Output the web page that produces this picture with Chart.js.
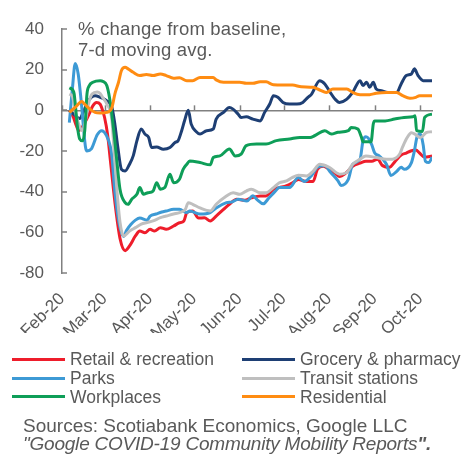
<!DOCTYPE html>
<html><head><meta charset="utf-8">
<script src="https://cdn.jsdelivr.net/npm/chart.js@4"></script>
<style>
html,body{margin:0;padding:0;background:#fff;}
#wrap{position:relative;width:465px;height:457px;overflow:hidden;font-family:"Liberation Sans",Arial,sans-serif;color:#595959;}
canvas{position:absolute;left:0;top:0;}
.t{position:absolute;white-space:nowrap;}
.sw{position:absolute;height:3px;width:53px;}
</style></head><body>
<div id="wrap">
<canvas id="c" width="465" height="457"></canvas>
<div class="t" id="title" style="left:78px;top:18px;font-size:18.5px;letter-spacing:0.2px;line-height:21px;">% change from baseline,<br>7-d moving avg.</div>
<div id="legend"></div>
<div class="t" id="src" style="left:23px;top:416.5px;font-size:19px;line-height:18px;">Sources: Scotiabank Economics, Google LLC<br><i style="letter-spacing:-0.22px;">"Google COVID-19 Community Mobility Reports<b>".</b></i></div>
</div>
<script>
// x values: days since 1 Feb 2020
const monthLabels = ['Feb-20','Mar-20','Apr-20','May-20','Jun-20','Jul-20','Aug-20','Sep-20','Oct-20'];
const monthStarts = [0,29,60,90,121,151,182,213,244];
const yTicks = [40,20,0,-20,-40,-60,-80];
const seriesNames = ['Retail & recreation','Grocery & pharmacy','Parks','Transit stations','Workplaces','Residential'];
const seriesColors = ['#EE1D2B','#1E3F74','#3D9AD5','#BFBFBF','#0E9E58','#FF8C12'];

const retail = [[5,0],[7.5,-3],[9.5,-7],[11.5,-10],[14,-8],[17,-4],[19,-1],[21,2.2],[23.5,3.8],[26,3],[27,1.4],[29,-3.5],[31,-11.7],[33,-25],[36,-45],[39.5,-63],[43,-69],[46,-66.7],[50,-61.8],[53,-59.4],[56.5,-60.2],[60,-58.5],[63,-59.4],[67,-57.7],[71,-58.5],[76,-56.9],[80,-55.3],[83,-54.4],[85,-50.3],[89,-49.5],[93,-53],[97,-52.8],[101,-54.4],[105,-52],[110,-48.7],[114,-46.2],[119,-43.7],[124.5,-44.2],[129,-43],[135,-42.1],[139,-42.1],[144,-38.8],[148,-38],[153,-37],[157,-35.6],[161,-34],[166.5,-35],[171,-35],[174,-29],[178,-27.5],[182,-29],[186,-31],[189,-32.5],[193,-31],[198,-27.5],[203,-26],[207,-25],[211,-25],[215,-24],[218,-27],[223,-28],[227,-25],[231,-22],[234.5,-21],[237.5,-20],[241,-19.5],[243.5,-21],[247,-23],[252,-22.5]];
const grocery = [[5,0],[9,-2.5],[12,-4],[15,0],[18,4.7],[22.5,7.2],[26,6.4],[30.5,4.7],[34,1.4],[36,-6.8],[38,-18],[40.5,-29],[43,-29.8],[46,-26.5],[48.5,-22.4],[51,-15],[54,-9.2],[56.5,-11.7],[59,-13.3],[61,-18.3],[64.5,-18],[69,-19.1],[73.5,-18.3],[77,-15.8],[79,-15],[81.5,-10],[83.5,-5],[86,0],[88,-6.8],[91.5,-10.5],[94,-11.7],[98.5,-10],[103,-9.2],[105,-4.3],[110,-1],[114,1.4],[116.5,0.6],[120,-1.9],[122,-3.5],[125.5,-3.2],[130,-4.3],[135,-5.2],[138,-1],[141.5,3.1],[144,7.2],[147,6.4],[150.5,3.9],[155,3.1],[160,3.1],[164,3.9],[167.5,6.4],[170,8],[175.5,14.6],[179,13],[182,9.6],[186,5.5],[189,3.9],[194,5.5],[198,8.8],[203,14.6],[205,12.2],[207.5,13.8],[209.5,11.3],[212,13.8],[214,10.5],[217.5,9.6],[222,8.8],[228,8.8],[231,13],[234.5,17.1],[238,17.9],[240,20.4],[242.5,17.1],[246,14.6],[252,14.6]];
const parks = [[5,-6],[7,10],[9,23],[11,18],[13,5],[16,-18],[17,-20],[20,-19],[24,-12],[27,-10],[30,-12],[33,-18],[34,-23],[36,-40],[39,-56],[42,-62],[44,-59],[47,-56],[50,-54],[53,-53],[58,-54],[60,-52],[64,-51],[68,-50],[71,-49.5],[76,-48.7],[80,-48.7],[85,-50.3],[87,-49.5],[94,-51],[101,-50.3],[105,-48],[112,-45.4],[116,-45],[120,-43.7],[126,-44.6],[130,-42],[133,-44],[137,-46],[141,-43],[145,-40],[148,-38],[155,-38],[161,-33],[165,-35],[170,-32],[174,-28],[179,-27.3],[183,-30.6],[188,-34.7],[190,-37],[195,-34],[198,-26.5],[203,-24],[205,-15],[207,-13],[209,-14],[211,-17],[213,-21],[216,-22.4],[221,-26.5],[224,-32],[228,-30],[231,-28],[233,-29],[238,-25.7],[240,-20],[242,-12.6],[244,-11.7],[246,-17],[247.5,-25],[250,-25.7],[252,-23]];
const transit = [[5,8],[7,7],[9.5,-2],[12,-8],[14,-10],[16,-5],[18,3],[20.5,8],[24,9],[26,8.3],[28,6],[30.5,3.2],[34,-5],[35.5,-20],[37.5,-40],[39.5,-55],[42,-61.8],[46,-59.4],[50,-57.7],[54,-56],[58,-55.2],[62,-54.4],[67,-52.8],[71,-52],[76,-51],[80,-50.3],[84,-48.7],[86,-45.4],[89,-46.2],[94,-48],[101,-49.5],[105,-46.2],[112,-42.1],[116.5,-40.5],[121,-41.3],[125.5,-39.7],[129,-38.8],[135,-40.5],[139,-40.5],[144,-38],[148,-35.6],[153,-34.7],[157,-33],[161,-31.9],[166.5,-32.3],[171,-30],[175.5,-26.5],[182,-28],[189,-31.4],[194,-30.5],[198,-26.5],[203,-24],[207,-22.4],[214,-23.2],[221,-24],[225,-24],[230,-21.5],[232,-18],[235,-13.5],[238,-11],[241,-12],[244,-13.5],[248,-11],[252,-10.5]];
const workplaces = [[5,11],[8,9],[10.5,-8],[12,-14],[14,-15],[15.5,-10],[17,8],[18.5,12],[21,13.8],[26,14.6],[28,14.2],[30.5,12.2],[32.5,5.6],[35,-8.5],[37,-22.4],[39.5,-38.8],[43,-45.4],[45,-46.2],[47.5,-43.7],[51,-41.3],[53,-38],[55.5,-41.3],[58.5,-40.5],[62,-39.7],[64.5,-35.6],[67,-38.8],[70,-38],[73.5,-31.4],[76,-35.6],[80,-33.9],[82.5,-29],[85,-26.5],[87,-24.9],[94,-25.7],[101,-26.8],[103,-23.2],[107.5,-22.4],[114,-19],[118,-22.4],[122,-21.5],[125.5,-17.4],[132.5,-16.6],[139,-16.6],[146,-14.9],[155,-14.1],[162,-13.3],[169,-13.3],[172,-12.5],[179,-10],[183.5,-11.7],[188,-10.8],[195,-10],[197,-8.4],[201.5,-9.2],[204,-13.3],[205,-15.5],[210.5,-15.5],[212,-6.7],[213,-5.2],[220,-5.2],[226.5,-4.3],[233,-3.5],[239,-3.2],[240.5,-2.7],[241.5,-10],[245.5,-10.4],[247,-3.5],[252,-1.9]];
const residential = [[5,-1],[9,1.4],[13.5,4.3],[15.5,3],[19,0.6],[22.5,-1],[26,-1.3],[30.5,-1],[34,1.4],[36,8],[38.5,13.8],[40.5,19.6],[43,21.2],[45,20.4],[48.5,18.7],[53,17.1],[57.5,17.6],[62,17.1],[67,17.9],[71,17.1],[76,15.8],[80,16],[85,14.6],[89,14.6],[94,16.2],[103,16.2],[105,15],[110,13.8],[121,13.8],[125.5,13.3],[130,13.3],[135,14.1],[139,14],[144,12.6],[150.5,12.4],[157,12.4],[163,11.6],[171,11.3],[175.5,10],[180,8.8],[184.5,10.5],[194,10.5],[198,8.8],[203,7.7],[209.5,7.7],[214,8.4],[221,8.8],[228,8.8],[232,7.2],[237,5.9],[241,6.4],[243.5,7.2],[252,7.2]];

const allSeries = [retail, grocery, parks, transit, workplaces, residential];
const X_MIN = 0, X_MAX = 252;
const GRAY = '#808080', TXT = '#595959';
const FONT = '"Liberation Sans", Arial, sans-serif';

const datasets = allSeries.map((s, i) => ({
  label: seriesNames[i],
  data: s.map(p => ({x: p[0], y: p[1]})),
  borderColor: seriesColors[i],
  backgroundColor: seriesColors[i],
  borderWidth: 3,
  pointRadius: 0,
  cubicInterpolationMode: 'monotone',
  fill: false,
  order: allSeries.length - i
}));

const monthTicks = s => { s.ticks = monthStarts.map(v => ({value: v})); };

// tick marks pointing into the plot: month ticks on the zero line, value ticks on the y axis
const innerTicks = {
  id: 'innerTicks',
  beforeDatasetsDraw(chart) {
    const {ctx} = chart; const x = chart.scales.x, y = chart.scales.y;
    ctx.save(); ctx.strokeStyle = GRAY; ctx.lineWidth = 1.5;
    const y0 = y.getPixelForValue(0);
    monthStarts.forEach(v => {
      const px = Math.round(x.getPixelForValue(v)) + 0.5;
      ctx.beginPath(); ctx.moveTo(px, y0); ctx.lineTo(px, y0 - 5); ctx.stroke();
    });
    yTicks.forEach(v => {
      const py = Math.round(y.getPixelForValue(v));
      ctx.beginPath(); ctx.moveTo(y.right, py); ctx.lineTo(y.right + 5, py); ctx.stroke();
    });
    ctx.restore();
  }
};

new Chart(document.getElementById('c'), {
  type: 'line',
  data: { datasets },
  plugins: [innerTicks],
  options: {
    responsive: false,
    animation: false,
    events: [],
    layout: { padding: { left: 0, top: 29, right: 33, bottom: 124 } },
    plugins: { legend: { display: false }, tooltip: { enabled: false } },
    scales: {
      x: {
        type: 'linear', position: 'bottom', min: X_MIN, max: X_MAX,
        afterBuildTicks: monthTicks,
        afterFit: s => { s.height = 60; },
        border: { display: false },
        grid: { display: false },
        ticks: {
          autoSkip: false, maxRotation: 45, minRotation: 45, padding: 8,
          color: TXT, font: { family: FONT, size: 17 },
          callback: (v) => { const k = monthStarts.indexOf(v); return k >= 0 ? monthLabels[k] : ''; }
        }
      },
      x0: {
        type: 'linear', position: { y: 0 }, min: X_MIN, max: X_MAX,
        afterBuildTicks: monthTicks,
        border: { display: true, color: GRAY, width: 1.5 },
        grid: { drawOnChartArea: false, drawTicks: false },
        ticks: { display: false }
      },
      y: {
        type: 'linear', position: 'left', min: -80, max: 40,
        afterBuildTicks: s => { s.ticks = yTicks.map(v => ({value: v})); },
        afterFit: s => { s.width = 62; },
        border: { display: true, color: GRAY, width: 1.5 },
        grid: { drawOnChartArea: false, drawTicks: false },
        ticks: { padding: 18, color: TXT, font: { family: FONT, size: 17 } }
      }
    }
  }
});

// HTML legend (two columns)
const lg = document.getElementById('legend');
seriesNames.forEach((name, i) => {
  const col = i % 2, row = Math.floor(i / 2);
  const sw = document.createElement('div');
  sw.className = 'sw';
  sw.style.left = (col ? 242 : 12) + 'px';
  sw.style.top = (358 + row * 18.7) + 'px';
  sw.style.background = seriesColors[i];
  lg.appendChild(sw);
  const tx = document.createElement('div');
  tx.className = 't';
  tx.style.left = (col ? 300 : 70) + 'px';
  tx.style.top = (350.3 + row * 18.7) + 'px';
  tx.style.fontSize = '17.5px';
  tx.style.lineHeight = '18.7px';
  tx.textContent = name;
  lg.appendChild(tx);
});
</script>
</body></html>
